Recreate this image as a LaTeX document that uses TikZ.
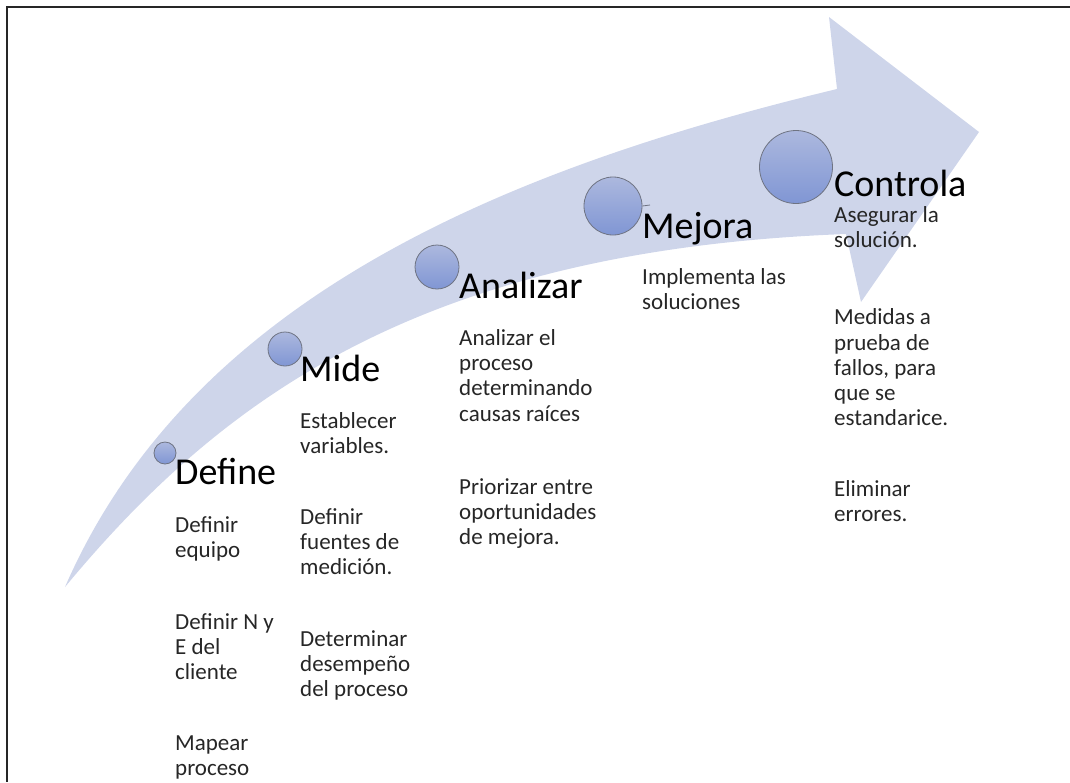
\documentclass[tikz,border=0pt]{standalone}
\usepackage{fontspec}
\setmainfont{Carlito}
\definecolor{arrowfill}{RGB}{206,213,234}
\definecolor{dottop}{RGB}{172,184,222}
\definecolor{dotbot}{RGB}{128,150,212}
\definecolor{dotline}{RGB}{110,115,130}
\definecolor{bodytext}{RGB}{38,38,38}
\begin{document}
\begin{tikzpicture}[x=1pt,y=-1pt,
  dot/.style={circle,draw=dotline,line width=0.8pt,top color=dottop,bottom color=dotbot,inner sep=0},
  title/.style={anchor=base west,inner sep=0,font=\fontsize{38}{42}\selectfont,text=black},
  body/.style={anchor=north west,inner sep=0,align=left,font=\fontsize{23}{25.3}\selectfont,text=bodytext}]
\useasboundingbox (0,0) rectangle (1070,782);
\draw[line width=2pt,black!85] (1070,7) -- (7,7) -- (7,782);
% curved arrow
\fill[arrowfill] (65,587) .. controls (190,300) and (500,170) .. (837,89)
  -- (829,17) -- (979,132) -- (861,302) -- (846,234)
  .. controls (420,250) and (220,400) .. (65,587) -- cycle;
% circles
\node[dot,minimum size=22pt] (c1) at (165,453) {};
\node[dot,minimum size=34pt] (c2) at (285,349) {};
\node[dot,minimum size=44pt] (c3) at (437,267) {};
\node[dot,minimum size=58pt] (c4) at (613,206) {};
\node[dot,minimum size=73pt] (c5) at (796,167) {};
\coordinate (dashend) at (650,205);
\draw[dotline,line width=0.8pt] (c4.east) -- (dashend);
% titles
\node[title] (t1) at (175,484) {Define};
\node[title] (t2) at (300,381) {Mide};
\node[title] (t3) at (459,298) {Analizar};
\node[title] (t4) at (642,238) {Mejora};
\node[title] (t5) at (834,196) {Controla};
% Define
\node[body] (d1) at (175,514.3) {\strut Definir\\equipo};
\node[body] (d2) at (175,611.3) {\strut Definir N y\\E del\\cliente};
\node[body] (d3) at (175,732.3) {\strut Mapear\\proceso};
% Mide
\node[body] (m1) at (300,410.3) {\strut Establecer\\variables.};
\node[body] (m2) at (300,506.3) {\strut Definir\\fuentes de\\medición.};
\node[body] (m3) at (300,628.3) {\strut Determinar\\desempeño\\del proceso};
% Analizar
\node[body] (a1) at (459,327.3) {\strut Analizar el\\proceso\\determinando\\causas raíces};
\node[body] (a2) at (459,476.3) {\strut Priorizar entre\\oportunidades\\de mejora.};
% Mejora
\node[body] (j1) at (642,266.3) {\strut Implementa las\\soluciones};
% Controla
\node[body] (k1) at (834,206) {Asegurar la\\solución.};
\node[body] (k2) at (834,306.8) {\strut Medidas a\\prueba de\\fallos, para\\que se\\estandarice.};
\node[body] (k3) at (834,478.3) {\strut Eliminar\\errores.};
\end{tikzpicture}
\end{document}
